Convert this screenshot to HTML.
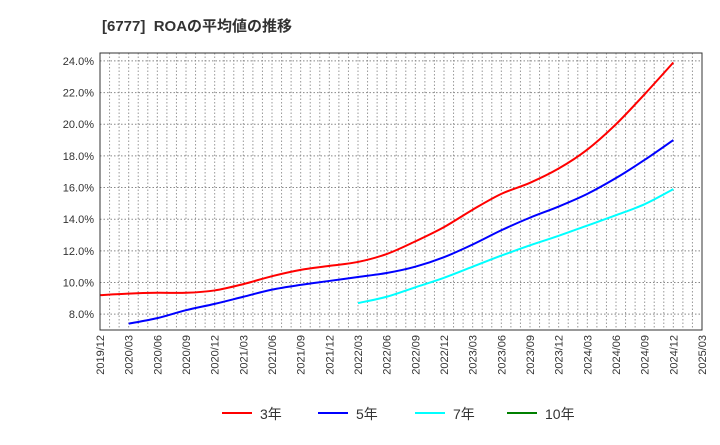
<!DOCTYPE html>
<html><head><meta charset="utf-8"><style>
body{margin:0;background:#fff;width:720px;height:440px;overflow:hidden;font-family:"Liberation Sans","Noto Sans CJK JP",sans-serif}
</style></head><body>
<svg width="720" height="440" xmlns="http://www.w3.org/2000/svg">
<text x="102" y="31" font-size="15" font-weight="bold" fill="#333" style="white-space:pre" font-family="Liberation Sans, Noto Sans CJK JP, sans-serif">[6777]  ROAの平均値の推移</text>
<g id="grid"></g><g id="axes"></g><g id="series"></g>
<rect x="100" y="53" width="602" height="277" fill="none" stroke="#333" stroke-width="1"/>
<g id="legend"></g>
</svg>
<script>
const xLabels=["2019/12","2020/03","2020/06","2020/09","2020/12","2021/03","2021/06","2021/09","2021/12","2022/03","2022/06","2022/09","2022/12","2023/03","2023/06","2023/09","2023/12","2024/03","2024/06","2024/09","2024/12","2025/03"];
const yTicks=[8,10,12,14,16,18,20,22,24];
const seriesNames=["3年","5年","7年","10年"];
const seriesColors=["#ff0000","#0000ff","#00ffff","#008000"];
const red=[9.2,9.3,9.35,9.35,9.5,9.9,10.4,10.8,11.05,11.3,11.8,12.6,13.5,14.6,15.6,16.3,17.2,18.4,20.0,21.9,23.9];
const blue=[null,7.4,7.75,8.25,8.65,9.1,9.55,9.85,10.1,10.35,10.6,11.0,11.6,12.4,13.3,14.1,14.8,15.6,16.6,17.75,19.0];
const cyan=[null,null,null,null,null,null,null,null,null,8.7,9.1,9.7,10.3,11.0,11.7,12.35,12.95,13.6,14.25,14.95,15.9];
const green=[];
const L=100,R=702,T=53,B=330,yMin=7.0,yMax=24.5;
const xs=i=>L+(R-L)*i/(xLabels.length-1);
const ys=v=>B-(B-T)*(v-yMin)/(yMax-yMin);
const NS="http://www.w3.org/2000/svg";
function mk(t,p,a){const e=document.createElementNS(NS,t);for(const k in a)e.setAttribute(k,a[k]);p.appendChild(e);return e;}
const grid=document.getElementById('grid'),axes=document.getElementById('axes'),ser=document.getElementById('series'),leg=document.getElementById('legend');
for(let m=1;m<(xLabels.length-1)*3;m++){const x=L+(R-L)*m/((xLabels.length-1)*3);
const g=mk('line',grid,{x1:x,x2:x,y1:T,y2:B,stroke:'#999','stroke-dasharray':'1.5,2','stroke-width':1});

}
yTicks.forEach(v=>{const y=ys(v);
const g=mk('line',grid,{x1:L,x2:R,y1:y,y2:y,stroke:'#888','stroke-dasharray':'1.5,2','stroke-width':1});


const t=mk('text',axes,{x:L-6,y:y+4,'text-anchor':'end','font-size':11,fill:'#333'});t.textContent=v.toFixed(1)+'%';

});
xLabels.forEach((s,i)=>{const x=xs(i);
const t=mk('text',axes,{transform:`translate(${x+4},335) rotate(-90)`,'text-anchor':'end','font-size':11,fill:'#333'});t.textContent=s;

});
function path(arr){const p=[];arr.forEach((v,i)=>{if(v!=null)p.push([xs(i),ys(v)]);});if(p.length<2)return '';
let d=`M${p[0][0]},${p[0][1]}`;for(let i=0;i<p.length-1;i++){const p0=p[i-1]||p[i],p1=p[i],p2=p[i+1],p3=p[i+2]||p2;
d+=` C${p1[0]+(p2[0]-p0[0])/6},${p1[1]+(p2[1]-p0[1])/6} ${p2[0]-(p3[0]-p1[0])/6},${p2[1]-(p3[1]-p1[1])/6} ${p2[0]},${p2[1]}`;}return d;}
[red,blue,cyan,green].forEach((a,k)=>{const d=path(a);if(!d)return;
const e=mk('path',ser,{d:d,fill:'none',stroke:seriesColors[k],'stroke-width':2});

});
const lx=[222,318,415,507];
seriesNames.forEach((n,k)=>{const g=mk('g',leg,{});


mk('line',g,{x1:lx[k],x2:lx[k]+30,y1:413,y2:413,stroke:seriesColors[k],'stroke-width':2});
const t=mk('text',g,{x:lx[k]+38,y:419,'font-size':14,fill:'#333'});t.textContent=n;});
</script>
</body></html>
